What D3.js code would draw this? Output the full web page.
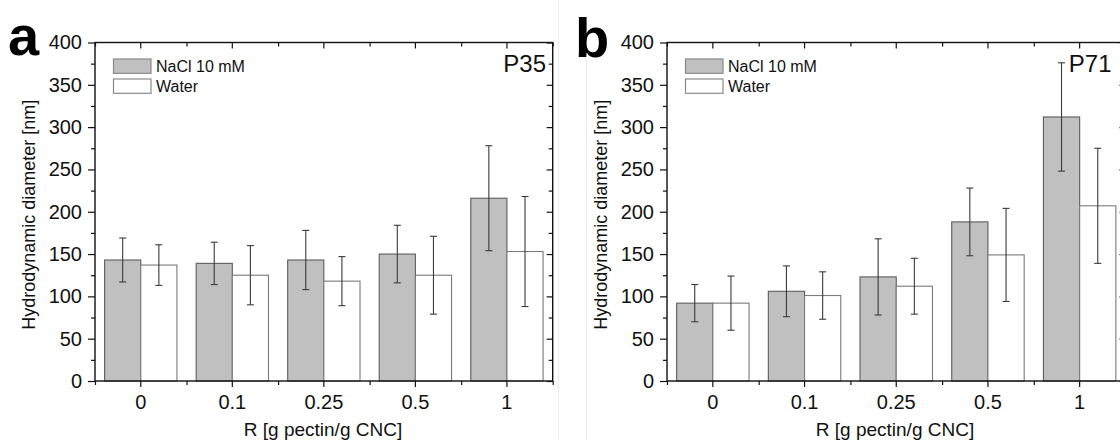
<!DOCTYPE html>
<html>
<head>
<meta charset="utf-8">
<script src="https://cdn.jsdelivr.net/npm/d3@7"></script>
<style>
  html, body { margin: 0; padding: 0; background: #fff; }
  svg { display: block; font-family: "Liberation Sans", Arial, sans-serif; }
</style>
</head>
<body>
<svg id="chart" width="1120" height="440"></svg>
<script>
// ---- data ----
const categories = ["0", "0.1", "0.25", "0.5", "1"];
const seriesNames = ["NaCl 10 mM", "Water"];
const yTickValues = [0, 50, 100, 150, 200, 250, 300, 350, 400];
const yMinorValues = [25, 75, 125, 175, 225, 275, 325, 375];

const p35Nacl = [143, 139, 143, 150, 216];
const p35NaclErr = [26, 25, 35, 34, 62];
const p35Water = [137, 125, 118, 125, 153];
const p35WaterErr = [24, 35, 29, 46, 65];

const p71Nacl = [92, 106, 123, 188, 312];
const p71NaclErr = [22, 30, 45, 40, 64];
const p71Water = [92, 101, 112, 149, 207];
const p71WaterErr = [32, 28, 33, 55, 68];

const panelLetters = ["a", "b"];
const panelTitles = ["P35", "P71"];
const xTitle = "R [g pectin/g CNC]";
const yTitle = "Hydrodynamic diameter [nm]";

// ---- layout ----
const svg = d3.select("#chart");
const fillColors = ["#c0c0c0", "#ffffff"];
const strokeColors = ["#5c5c5c", "#7a7a7a"];

// faint panel borders
svg.append("line").attr("x1", 558.5).attr("x2", 558.5).attr("y1", 0).attr("y2", 440)
  .attr("stroke", "#ececec").attr("stroke-width", 1);
svg.append("line").attr("x1", 586.5).attr("x2", 586.5).attr("y1", 22).attr("y2", 440)
  .attr("stroke", "#ececec").attr("stroke-width", 1);

const panels = [
  { left: 95, right: 552.7, letterX: 8, letterY: 55, titleRight: 546,
    nacl: p35Nacl, naclErr: p35NaclErr, water: p35Water, waterErr: p35WaterErr },
  { left: 667, right: 1125.5, letterX: 575, letterY: 56.5, titleRight: 1111.5,
    nacl: p71Nacl, naclErr: p71NaclErr, water: p71Water, waterErr: p71WaterErr }
];
const plotTop = 42.5, plotBottom = 381;

panels.forEach((p, pi) => {
  const g = svg.append("g");
  const x = d3.scaleBand().domain(categories).range([p.left, p.right])
    .paddingInner(0.21).paddingOuter(0.105);
  const xs = d3.scaleBand().domain(seriesNames).range([0, x.bandwidth()]);
  const xMinor = d3.scaleLinear().domain([-0.5, categories.length - 0.5]).range([p.left, p.right]);
  const minorX = d3.range(-0.5, categories.length, 1);
  const y = d3.scaleLinear().domain([0, 400]).range([plotBottom, plotTop]);

  const rows = categories.map((c, i) => ({
    cat: c,
    vals: [
      { s: seriesNames[0], v: p.nacl[i], e: p.naclErr[i], k: 0 },
      { s: seriesNames[1], v: p.water[i], e: p.waterErr[i], k: 1 }
    ]
  }));

  // bars
  const groups = g.selectAll("g.grp").data(rows).join("g").attr("class", "grp")
    .attr("transform", d => `translate(${x(d.cat)},0)`);
  groups.selectAll("rect").data(d => d.vals).join("rect")
    .attr("x", d => xs(d.s))
    .attr("y", d => y(d.v))
    .attr("width", xs.bandwidth())
    .attr("height", d => y(0) - y(d.v))
    .attr("fill", d => fillColors[d.k])
    .attr("stroke", d => strokeColors[d.k])
    .attr("stroke-width", 1.1);

  // error bars
  const eb = groups.selectAll("g.eb").data(d => d.vals).join("g").attr("class", "eb")
    .attr("stroke", "#3a3a3a").attr("stroke-width", 1.1);
  eb.append("line")
    .attr("x1", d => xs(d.s) + xs.bandwidth() / 2).attr("x2", d => xs(d.s) + xs.bandwidth() / 2)
    .attr("y1", d => y(d.v + d.e)).attr("y2", d => y(d.v - d.e));
  [1, -1].forEach(sg => {
    eb.append("line")
      .attr("x1", d => xs(d.s) + xs.bandwidth() / 2 - 3.5).attr("x2", d => xs(d.s) + xs.bandwidth() / 2 + 3.5)
      .attr("y1", d => y(d.v + sg * d.e)).attr("y2", d => y(d.v + sg * d.e));
  });

  // axes
  const styleAxis = sel => {
    sel.select(".domain").remove();
    sel.selectAll(".tick line").attr("stroke", "#111").attr("stroke-width", 1.2);
    sel.selectAll(".tick text").attr("fill", "#111").style("font-size", "20px")
      .style("font-family", '"Liberation Sans", Arial, sans-serif');
  };
  // bottom
  g.append("g").attr("transform", `translate(0,${plotBottom})`)
    .call(d3.axisBottom(x).tickSize(6).tickPadding(8)).call(styleAxis);
  g.append("g").attr("transform", `translate(0,${plotBottom})`)
    .call(d3.axisBottom(xMinor).tickValues(minorX).tickSize(4).tickFormat("")).call(styleAxis);
  // top (inward)
  g.append("g").attr("transform", `translate(0,${plotTop})`)
    .call(d3.axisBottom(x).tickSize(6).tickFormat("")).call(styleAxis);
  g.append("g").attr("transform", `translate(0,${plotTop})`)
    .call(d3.axisBottom(xMinor).tickValues(minorX).tickSize(4).tickFormat("")).call(styleAxis);
  // left
  g.append("g").attr("transform", `translate(${p.left},0)`)
    .call(d3.axisLeft(y).tickValues(yTickValues).tickSize(7).tickPadding(6)).call(styleAxis);
  g.append("g").attr("transform", `translate(${p.left},0)`)
    .call(d3.axisLeft(y).tickValues(yMinorValues).tickSize(4).tickFormat("")).call(styleAxis);
  // right (inward)
  g.append("g").attr("transform", `translate(${p.right},0)`)
    .call(d3.axisLeft(y).tickValues(yTickValues).tickSize(6).tickFormat("")).call(styleAxis);
  g.append("g").attr("transform", `translate(${p.right},0)`)
    .call(d3.axisLeft(y).tickValues(yMinorValues).tickSize(4).tickFormat("")).call(styleAxis);

  // frame
  g.append("rect").attr("x", p.left).attr("y", plotTop)
    .attr("width", p.right - p.left).attr("height", plotBottom - plotTop)
    .attr("fill", "none").attr("stroke", "#111").attr("stroke-width", 1.4);

  // legend
  const lg = g.append("g").attr("transform", `translate(${p.left + 18.5},${plotTop + 16.5})`);
  seriesNames.forEach((s, i) => {
    lg.append("rect").attr("x", 0).attr("y", i * 20).attr("width", 37.5).attr("height", 14.3)
      .attr("fill", fillColors[i]).attr("stroke", "#8a8a8a").attr("stroke-width", 1.2);
    lg.append("text").attr("x", 42.5).attr("y", i * 20 + 12.7).text(s)
      .attr("fill", "#111").style("font-size", "16px");
  });

  // panel title
  g.append("text").attr("x", p.titleRight).attr("y", 72.3).attr("text-anchor", "end")
    .text(panelTitles[pi]).attr("fill", "#111").style("font-size", "24px");

  // axis titles
  g.append("text").attr("x", p.left + 228).attr("y", 435.5)
    .attr("text-anchor", "middle").text(xTitle).attr("fill", "#111").style("font-size", "19px");
  g.append("text").attr("transform", `translate(${p.left - 60.5},${(plotTop + plotBottom) / 2 + 3}) rotate(-90)`)
    .attr("text-anchor", "middle").text(yTitle).attr("fill", "#111").style("font-size", "18px");

  // panel letter
  g.append("text").attr("x", p.letterX).attr("y", p.letterY).text(panelLetters[pi])
    .attr("fill", "#000").style("font-size", "56px").style("font-weight", "bold")
    .style("font-family", '"Liberation Sans", Arial, sans-serif');
});
</script>
</body>
</html>
